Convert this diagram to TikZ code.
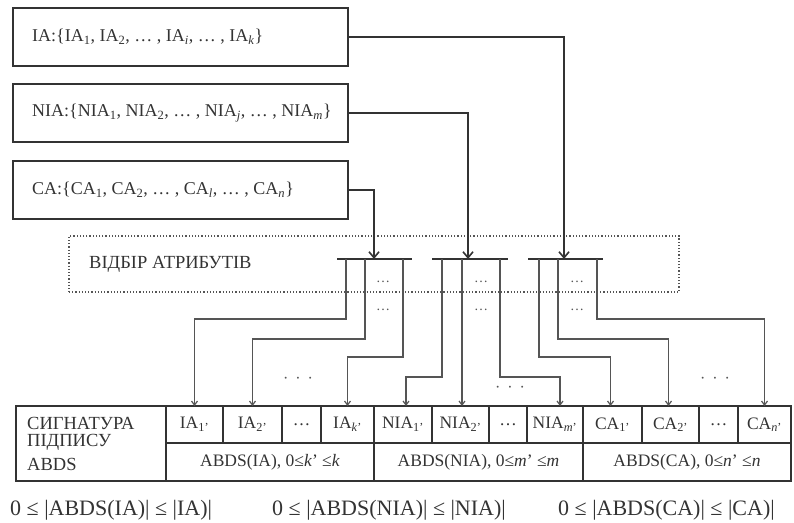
\documentclass[tikz,border=0pt]{standalone}
\usepackage{fontspec}
\setmainfont{Liberation Serif}
\usetikzlibrary{arrows.meta}
\definecolor{ink}{HTML}{333333}
\definecolor{wire}{HTML}{555555}
\tikzset{
  attrbox/.style={draw=ink, line width=1.8pt, minimum width=335pt, minimum height=58pt, inner sep=0pt, outer sep=0pt},
  boxtext/.style={anchor=west, inner sep=0pt, text=ink, font=\fontsize{18}{20}\selectfont},
  feed/.style={draw=ink, line width=1.6pt, -{Straight Barb[length=6pt,width=10pt,line width=1.6pt]}},
  bar/.style={draw=ink, line width=2pt},
  drop/.style={draw=wire, line width=1.2pt, -{Straight Barb[length=4pt,width=6pt,line width=1.2pt]}},
  cell/.style={draw=ink, line width=1.2pt, anchor=north west, minimum height=37pt, inner sep=0pt, outer sep=0pt, text=ink, font=\fontsize{17.5}{18}\selectfont},
  lowcell/.style={cell, minimum height=38pt},
  selbox/.style={draw=wire, dotted, line width=1.2pt, minimum width=610pt, minimum height=56pt, inner sep=0pt},
  dots/.style={text=wire, inner sep=0pt, font=\fontsize{14}{16}\selectfont},
  gap/.style={text=wire, inner sep=0pt, font=\fontsize{16}{16}\selectfont},
  bound/.style={anchor=west, inner sep=0pt, text=ink, font=\fontsize{22}{24}\selectfont},
  sigtext/.style={anchor=base west, inner sep=0pt, text=ink, font=\fontsize{18.5}{20}\selectfont},
  seltext/.style={anchor=west, inner sep=0pt, text=ink, font=\fontsize{18.5}{20}\selectfont}
}
\begin{document}
\begin{tikzpicture}[x=1pt, y=-1pt]
\useasboundingbox (0,0) rectangle (794,522);

% attribute sets
\node[attrbox] (ia)  at (180.5,37)  {};
\node[attrbox] (nia) at (180.5,113) {};
\node[attrbox] (ca)  at (180.5,190) {};
\node[boxtext] (iatxt)  at (32,37)  {IA:\{IA\textsubscript{1}, IA\textsubscript{2}, … , IA\textsubscript{\textit{i}}, … , IA\textsubscript{\textit{k}}\}};
\node[boxtext] (niatxt) at (32,113) {NIA:\{NIA\textsubscript{1}, NIA\textsubscript{2}, … , NIA\textsubscript{\textit{j}}, … , NIA\textsubscript{\textit{m}}\}};
\node[boxtext] (catxt)  at (32,190) {CA:\{CA\textsubscript{1}, CA\textsubscript{2}, … , CA\textsubscript{\textit{l}}, … , CA\textsubscript{\textit{n}}\}};

% attribute selection stage
\node[selbox] (sel) at (374,264) {};
\node[seltext] (seltxt) at (89,264) {ВІДБІР АТРИБУТІВ};

% selector bars
\coordinate (b1l) at (337,259); \coordinate (b1r) at (412,259);
\coordinate (b2l) at (432,259); \coordinate (b2r) at (508,259);
\coordinate (b3l) at (528,259); \coordinate (b3r) at (603,259);
\draw[bar] (b1l) -- (b1r);
\draw[bar] (b2l) -- (b2r);
\draw[bar] (b3l) -- (b3r);
\coordinate (t1) at (374,259);
\coordinate (t2) at (468,259);
\coordinate (t3) at (564,259);

\draw[feed] (ca.east)  -| (t1);
\draw[feed] (nia.east) -| (t2);
\draw[feed] (ia.east)  -| (t3);

\node[dots] (e1a) at (383,282) {…};
\node[dots] (e1b) at (383,310) {…};
\node[dots] (e2a) at (481,282) {…};
\node[dots] (e2b) at (481,310) {…};
\node[dots] (e3a) at (577,282) {…};
\node[dots] (e3b) at (577,310) {…};

% signature table
\node[cell, minimum width=150pt, minimum height=75pt] (lab) at (16,406) {};
\node[sigtext] (l1) at (27,429) {СИГНАТУРА};
\node[sigtext] (l2) at (27,446) {ПІДПИСУ};
\node[sigtext] (l3) at (27,470) {ABDS};

\node[cell, minimum width=57pt] (c1)  at (166,406) {IA\textsubscript{1'}};
\node[cell, minimum width=59pt] (c2)  at (223,406) {IA\textsubscript{2'}};
\node[cell, minimum width=39pt] (c3)  at (282,406) {…};
\node[cell, minimum width=53pt] (c4)  at (321,406) {IA\textsubscript{\textit{k}'}};
\node[cell, minimum width=58pt] (c5)  at (374,406) {NIA\textsubscript{1'}};
\node[cell, minimum width=57pt] (c6)  at (432,406) {NIA\textsubscript{2'}};
\node[cell, minimum width=38pt] (c7)  at (489,406) {…};
\node[cell, minimum width=56pt] (c8)  at (527,406) {NIA\textsubscript{\textit{m}'}};
\node[cell, minimum width=59pt] (c9)  at (583,406) {CA\textsubscript{1'}};
\node[cell, minimum width=57pt] (c10) at (642,406) {CA\textsubscript{2'}};
\node[cell, minimum width=39pt] (c11) at (699,406) {…};
\node[cell, minimum width=53pt] (c12) at (738,406) {CA\textsubscript{\textit{n}'}};

\node[lowcell, minimum width=208pt] (s1) at (166,443) {ABDS(IA), 0≤\textit{k}' ≤\textit{k}};
\node[lowcell, minimum width=209pt] (s2) at (374,443) {ABDS(NIA), 0≤\textit{m}' ≤\textit{m}};
\node[lowcell, minimum width=208pt] (s3) at (583,443) {ABDS(CA), 0≤\textit{n}' ≤\textit{n}};

% attribute routing into the signature
\coordinate (d1a) at (346,259); \coordinate (d1b) at (365,259); \coordinate (d1c) at (403,259);
\coordinate (d2a) at (442,259); \coordinate (d2b) at (462,259); \coordinate (d2c) at (500,259);
\coordinate (d3a) at (539,259); \coordinate (d3b) at (558,259); \coordinate (d3c) at (597,259);

\draw[drop] (d1a) -- ++(0,60) -| (c1.north);
\draw[drop] (d1b) -- ++(0,80) -| (c2.north);
\draw[drop] (d1c) -- ++(0,98) -| (c4.north);
\draw[drop] (d2a) -- ++(0,118) -| ([xshift=3pt]c5.north);
\draw[drop] (d2b) -- (d2b |- c6.north);
\draw[drop] (d2c) -- ++(0,118) -| ([xshift=5pt]c8.north);
\draw[drop] (d3a) -- ++(0,98) -| ([xshift=-2pt]c9.north);
\draw[drop] (d3b) -- ++(0,80) -| ([xshift=-2pt]c10.north);
\draw[drop] (d3c) -- ++(0,60) -| (c12.north);

\node[gap] (g1) at (298,380) {·\hspace{7pt}·\hspace{7pt}·};
\node[gap] (g2) at (510,389) {·\hspace{7pt}·\hspace{7pt}·};
\node[gap] (g3) at (715,380) {·\hspace{7pt}·\hspace{7pt}·};

% size bounds
\node[bound] (r1) at (10,510)  {0 ≤ |ABDS(IA)| ≤ |IA)|};
\node[bound] (r2) at (272,510) {0 ≤ |ABDS(NIA)| ≤ |NIA)|};
\node[bound] (r3) at (558,510) {0 ≤ |ABDS(CA)| ≤ |CA)|};
\end{tikzpicture}
\end{document}
